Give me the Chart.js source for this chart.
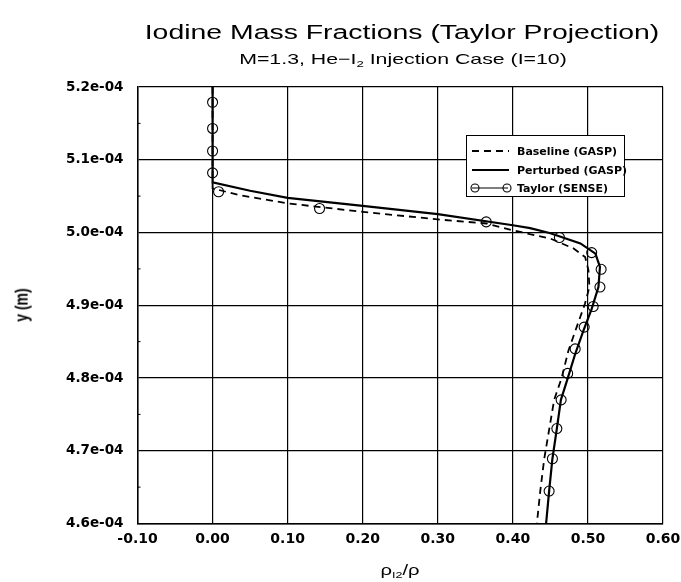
<!DOCTYPE html>
<html>
<head>
<meta charset="utf-8">
<script src="https://cdn.jsdelivr.net/npm/chart.js@4.4.1/dist/chart.umd.min.js"></script>
<style>
  html, body { margin: 0; padding: 0; background: #fff; }
  #wrap { position: relative; width: 681px; height: 582px; background: #fff; overflow: hidden; }
  #c { position: absolute; left: 0; top: 0; }
  .lbl { position: absolute; white-space: nowrap; color: #000; font-family: "Liberation Sans", Arial, sans-serif; line-height: 1; }
  #title { left: 402px; top: 32px; font-size: 20px; transform: translate(-50%, -50%) scaleX(1.42); }
  #subtitle { left: 403px; top: 58px; font-size: 15px; transform: translate(-50%, -50%) scaleX(1.42); }
  #xtitle { left: 400px; top: 569px; font-size: 15px; transform: translate(-50%, -50%) scaleX(1.35); }
  #ytitle { left: 21px; top: 305px; font-size: 14px; font-weight: bold; transform: translate(-50%, -50%) rotate(-90deg) scaleY(1.3); }
  sub { font-size: 0.62em; vertical-align: -0.35em; line-height: 0; }
  #legend { position: absolute; left: 466px; top: 135px; width: 157px; height: 60px; border: 1px solid #000; background: #fff; }
  .row { position: absolute; left: 3px; height: 14px; display: flex; align-items: center; }
  .row svg { width: 42px; height: 14px; }
  .row span { margin-left: 5px; font-family: "DejaVu Sans", sans-serif; font-weight: bold; font-size: 11px; color: #000; white-space: nowrap; }
</style>
</head>
<body>
<div id="wrap">
  <canvas id="c" width="681" height="582"></canvas>
  <div class="lbl" id="title">Iodine Mass Fractions (Taylor Projection)</div>
  <div class="lbl" id="subtitle">M=1.3, He&minus;I<sub>2</sub> Injection Case (I=10)</div>
  <div class="lbl" id="xtitle">&rho;<sub>I2</sub>/&rho;</div>
  <div class="lbl" id="ytitle">y (m)</div>
  <div id="legend">
    <div class="row" style="top:8px">
      <svg viewBox="0 0 42 14"><line x1="2" y1="7" x2="39" y2="7" stroke="#000" stroke-width="1.8" stroke-dasharray="7,5"/></svg>
      <span>Baseline (GASP)</span>
    </div>
    <div class="row" style="top:27px">
      <svg viewBox="0 0 42 14"><line x1="2" y1="7" x2="39" y2="7" stroke="#000" stroke-width="2"/></svg>
      <span>Perturbed (GASP)</span>
    </div>
    <div class="row" style="top:45px">
      <svg viewBox="0 0 42 14"><line x1="2" y1="7" x2="38" y2="7" stroke="#000" stroke-width="1.2"/><circle cx="5" cy="7" r="4" fill="none" stroke="#000" stroke-width="1.1"/><circle cx="37" cy="7" r="4" fill="none" stroke="#000" stroke-width="1.1"/></svg>
      <span>Taylor (SENSE)</span>
    </div>
  </div>
</div>
<script>
// ---- data (x: rho_I2/rho, y: metres) ----
const baselineX = [0, 0, 0.035, 0.1, 0.2, 0.3, 0.365, 0.4, 0.45, 0.481, 0.4963, 0.5007, 0.502, 0.496, 0.485, 0.474, 0.465, 0.455, 0.4485, 0.4418, 0.4365, 0.432];
const baselineY = [5.20e-4, 5.0607e-4, 5.0514e-4, 5.040e-4, 5.0284e-4, 5.018e-4, 5.0124e-4, 5.003e-4, 4.9917e-4, 4.978e-4, 4.9663e-4, 4.948e-4, 4.925e-4, 4.902e-4, 4.870e-4, 4.8376e-4, 4.800e-4, 4.770e-4, 4.730e-4, 4.689e-4, 4.6446e-4, 4.600e-4];

const perturbedX = [0, 0, 0.05, 0.1, 0.2, 0.3, 0.4, 0.423, 0.45, 0.49, 0.51, 0.516, 0.514, 0.505, 0.494, 0.483, 0.472, 0.464, 0.4586, 0.4527, 0.4483, 0.4443];
const perturbedY = [5.20e-4, 5.069e-4, 5.0574e-4, 5.0477e-4, 5.0367e-4, 5.0252e-4, 5.010e-4, 5.006e-4, 4.999e-4, 4.985e-4, 4.971e-4, 4.9526e-4, 4.925e-4, 4.895e-4, 4.865e-4, 4.833e-4, 4.796e-4, 4.770e-4, 4.7305e-4, 4.689e-4, 4.6446e-4, 4.600e-4];

const taylorX = [0, 0, 0, 0, 0.008, 0.1425, 0.3645, 0.462, 0.505, 0.5176, 0.516, 0.507, 0.495, 0.483, 0.473, 0.4643, 0.4586, 0.4527, 0.4483];
const taylorY = [5.179e-4, 5.143e-4, 5.112e-4, 5.082e-4, 5.056e-4, 5.033e-4, 5.0146e-4, 4.9931e-4, 4.9724e-4, 4.9494e-4, 4.925e-4, 4.8983e-4, 4.870e-4, 4.840e-4, 4.8063e-4, 4.770e-4, 4.7305e-4, 4.689e-4, 4.6446e-4];

const xRange = [-0.10, 0.60];
const xStep = 0.10;
const yRange = [4.6e-4, 5.2e-4];
const yStep = 1e-5;

const seriesNames = ["Baseline (GASP)", "Perturbed (GASP)", "Taylor (SENSE)"];

function pts(xs, ys) { return xs.map((x, i) => ({ x: x, y: ys[i] })); }
function fmtY(v) { return (v * 1e4).toFixed(1) + "e-04"; }
function fmtX(v) { return (Math.abs(v) < 1e-9 ? 0 : v).toFixed(2); }

const minorTicks = {
  id: "minorTicks",
  afterDraw(chart) {
    const { ctx, chartArea: a, scales } = chart;
    ctx.save();
    ctx.strokeStyle = "#000";
    ctx.lineWidth = 1;
    for (let k = 0; k < 6; k++) {
      const py = scales.y.getPixelForValue(yRange[0] + (k + 0.5) * yStep);
      ctx.beginPath(); ctx.moveTo(a.left, py); ctx.lineTo(a.left + 3, py); ctx.stroke();
    }
    ctx.restore();
  }
};

new Chart(document.getElementById("c"), {
  type: "line",
  data: {
    datasets: [
      {
        label: seriesNames[0],
        data: pts(baselineX, baselineY),
        borderColor: "#000",
        borderWidth: 1.8,
        borderDash: [7, 5],
        pointRadius: 0,
        tension: 0,
        fill: false
      },
      {
        label: seriesNames[1],
        data: pts(perturbedX, perturbedY),
        borderColor: "#000",
        borderWidth: 2.2,
        pointRadius: 0,
        tension: 0,
        fill: false
      },
      {
        label: seriesNames[2],
        data: pts(taylorX, taylorY),
        borderColor: "#000",
        borderWidth: 1,
        showLine: false,
        pointRadius: 5,
        pointStyle: "circle",
        pointBorderWidth: 1.1,
        pointBackgroundColor: "rgba(0,0,0,0)",
        pointBorderColor: "#000",
        fill: false
      }
    ]
  },
  options: {
    responsive: false,
    animation: false,
    devicePixelRatio: 1,
    layout: { padding: { top: 87, right: 18, left: 0, bottom: 0 } },
    plugins: { legend: { display: false }, title: { display: false }, tooltip: { enabled: false } },
    scales: {
      x: {
        type: "linear",
        min: xRange[0], max: xRange[1],
        afterFit: s => { s.height = 58.5; s.paddingLeft = 0; s.paddingRight = 0; },
        ticks: { stepSize: xStep, callback: v => fmtX(v), color: "#000", padding: 7, maxRotation: 0,
                 font: { family: "DejaVu Sans", weight: "bold", size: 14 } },
        grid: { color: "#000", lineWidth: 1.2, drawTicks: false },
        border: { color: "#000", width: 1.5 }
      },
      y: {
        type: "linear",
        min: yRange[0], max: yRange[1],
        afterFit: s => { s.width = 137.5; s.paddingTop = 0; s.paddingBottom = 0; },
        ticks: { stepSize: yStep, callback: v => fmtY(v), color: "#000", padding: 14,
                 font: { family: "DejaVu Sans", weight: "bold", size: 13.5 } },
        grid: { color: "#000", lineWidth: 1.2, drawTicks: false },
        border: { color: "#000", width: 1.5 }
      }
    }
  },
  plugins: [minorTicks]
});
</script>
</body>
</html>
